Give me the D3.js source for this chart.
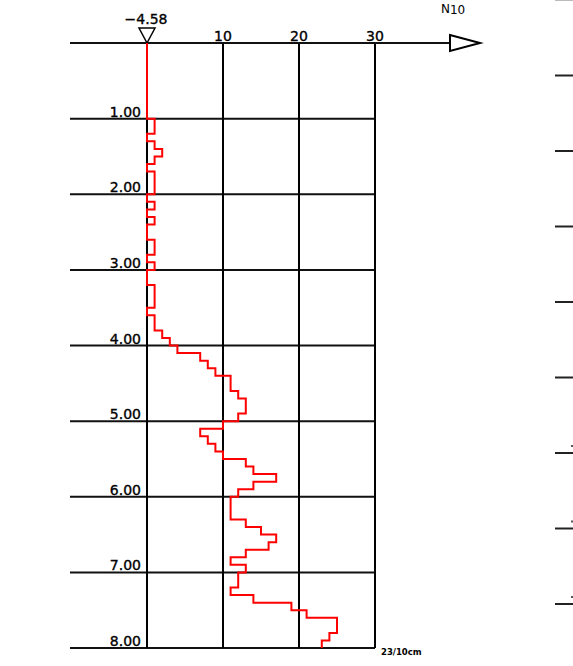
<!DOCTYPE html>
<html>
<head>
<meta charset="utf-8">
<script src="https://cdn.jsdelivr.net/npm/d3@7"></script>
<style>
  body { margin: 0; background: #fff; }
  svg { display: block; font-family: "DejaVu Sans", sans-serif; }
  .lbl { stroke: #000; stroke-width: 0.35; }
</style>
</head>
<body>
<div id="viz"></div>
<script>
/*** data ***/
// N10 blow counts per 10 cm, from 0.00 m down to 8.00 m
const blows = [
  0, 0, 0, 0, 0, 0, 0, 0, 0, 0,
  1, 1, 0, 1, 2, 1, 0, 1, 1, 1,
  0, 1, 0, 1, 0, 0, 1, 1, 0, 1,
  0, 0, 1, 1, 1, 0, 1, 1, 2, 3,
  4, 7, 8, 9, 11, 11, 12, 13, 13, 12,
  10, 7, 8, 9, 10, 13, 14, 17, 14, 12,
  11, 11, 11, 13, 15, 17, 16, 13, 11, 13,
  12, 12, 11, 14, 19, 21, 25, 25, 24, 23
];
const depthTicks = [1, 2, 3, 4, 5, 6, 7, 8];
const nTicks = [10, 20, 30];
const groundLevel = "\u22124.58";
const step = 0.1;

/*** layout ***/
const width = 573, height = 666;
const x = d3.scaleLinear().domain([0, 30]).range([147, 375]);
const y = d3.scaleLinear().domain([0, 8]).range([43, 648]);
// ticks of the neighbouring panel, cut off at the right edge
const yRight = d3.scaleLinear().domain([0, 8]).range([0, 604]);

const svg = d3.select("#viz")
  .append("svg")
  .attr("width", width)
  .attr("height", height);

// horizontal depth lines
svg.append("g")
  .selectAll("line")
  .data(depthTicks)
  .join("line")
  .attr("x1", 70)
  .attr("x2", x(30))
  .attr("y1", d => y(d))
  .attr("y2", d => y(d))
  .attr("stroke", "#111")
  .attr("stroke-width", 2);

// depth labels
svg.append("g")
  .selectAll("text")
  .data(depthTicks)
  .join("text")
  .attr("class", "lbl")
  .attr("x", 141)
  .attr("y", d => y(d) - 2)
  .attr("text-anchor", "end")
  .attr("font-size", 14)
  .attr("fill", "#000")
  .text(d => d.toFixed(2));

// vertical N lines
svg.append("g")
  .selectAll("line")
  .data([0].concat(nTicks))
  .join("line")
  .attr("x1", d => x(d))
  .attr("x2", d => x(d))
  .attr("y1", y(0))
  .attr("y2", y(8))
  .attr("stroke", "#000")
  .attr("stroke-width", 2);

// top axis line with open arrow
svg.append("line")
  .attr("x1", 70)
  .attr("x2", 450)
  .attr("y1", y(0))
  .attr("y2", y(0))
  .attr("stroke", "#111")
  .attr("stroke-width", 2);

svg.append("path")
  .attr("d", `M450,${y(0) - 8}L480,${y(0)}L450,${y(0) + 8}Z`)
  .attr("fill", "#fff")
  .attr("stroke", "#000")
  .attr("stroke-width", 2);

svg.append("g")
  .selectAll("text")
  .data(nTicks)
  .join("text")
  .attr("class", "lbl")
  .attr("x", d => x(d))
  .attr("y", y(0) - 2)
  .attr("text-anchor", "middle")
  .attr("font-size", 14)
  .text(d => d);

const nLabel = svg.append("text")
  .attr("x", 441)
  .attr("y", 13)
  .attr("font-size", 12);
nLabel.append("tspan").text("N");
nLabel.append("tspan").attr("dy", 1).attr("font-size", 12).text("10");

// ground level marker
svg.append("path")
  .attr("d", `M${x(0) - 8},${y(0) - 15}L${x(0) + 8},${y(0) - 15}L${x(0)},${y(0)}Z`)
  .attr("fill", "#fff")
  .attr("stroke", "#000")
  .attr("stroke-width", 1.5);

svg.append("text")
  .attr("class", "lbl")
  .attr("x", x(0) - 1)
  .attr("y", 24)
  .attr("text-anchor", "middle")
  .attr("font-size", 14)
  .text(groundLevel);

// blow count profile
const pts = [];
blows.forEach((v, i) => {
  pts.push([v, i * step]);
  pts.push([v, (i + 1) * step]);
});

svg.append("path")
  .datum(pts)
  .attr("d", d3.line().x(d => x(d[0])).y(d => y(d[1])))
  .attr("fill", "none")
  .attr("stroke", "#ff0000")
  .attr("stroke-width", 2)
  .attr("stroke-linejoin", "miter");

svg.append("text")
  .attr("x", 381)
  .attr("y", 655)
  .attr("font-size", 8.5)
  .attr("font-weight", "bold")
  .text(`${blows[blows.length - 1]}/10cm`);

// right-hand stub ticks
svg.append("g")
  .selectAll("line")
  .data(d3.range(0, 9))
  .join("line")
  .attr("x1", 555)
  .attr("x2", 573)
  .attr("y1", d => yRight(d) + (d === 0 ? 0.5 : 0))
  .attr("y2", d => yRight(d) + (d === 0 ? 0.5 : 0))
  .attr("stroke", d => d === 0 ? "#bbb" : "#222")
  .attr("stroke-width", d => d === 0 ? 1 : 2);

svg.append("g")
  .selectAll("rect")
  .data([6, 7, 8])
  .join("rect")
  .attr("x", 571)
  .attr("y", d => yRight(d) - 8)
  .attr("width", 2)
  .attr("height", 2)
  .attr("fill", "#555");
</script>
</body>
</html>
